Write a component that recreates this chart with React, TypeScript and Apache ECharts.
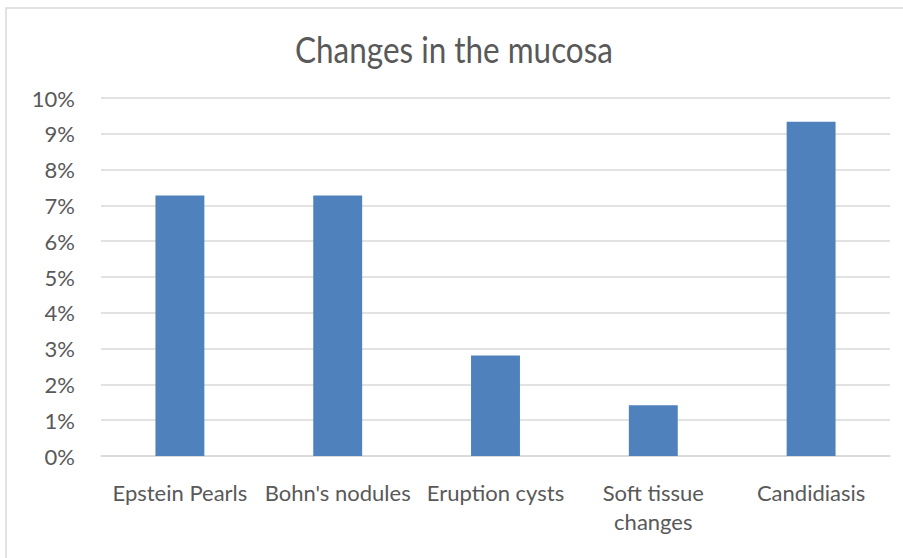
import React, { useEffect, useRef } from "react";
import * as echarts from "echarts";

const categories = ["Epstein Pearls", "Bohn's nodules", "Eruption cysts", "Soft tissue\nchanges", "Candidiasis"];
const values = [7.28, 7.28, 2.81, 1.42, 9.34];
const yTicks = [0, 1, 2, 3, 4, 5, 6, 7, 8, 9, 10];
const titleText = "Changes in the mucosa";

export default function App() {
  const ref = useRef<HTMLDivElement>(null);
  useEffect(() => {
    document.body.style.margin = "0";
    const chart = echarts.init(ref.current!, null, { renderer: "svg" });
    const font = "Lato, 'Open Sans', sans-serif";
    chart.setOption({
      animation: false,
      backgroundColor: "#ffffff",
      graphic: [
        {
          type: "rect",
          shape: { x: 6, y: 8, width: 930, height: 600 },
          style: { fill: "none", stroke: "#d9d9d9", lineWidth: 1.5 },
          silent: true,
        },
        {
          type: "text",
          x: 454,
          y: 48,
          scaleX: 0.85,
          style: {
            text: titleText,
            fontFamily: font,
            fontSize: 37,
            fontWeight: "normal",
            fill: "#595959",
            align: "center",
            verticalAlign: "middle",
            textAlign: "center",
            textVerticalAlign: "middle",
          },
        },
      ],
      grid: { left: 101, right: 13, top: 98, bottom: 102, containLabel: false },
      xAxis: {
        type: "category",
        data: categories,
        axisTick: { show: false },
        axisLine: { show: true, lineStyle: { color: "#d9d9d9", width: 1.5 } },
        axisLabel: {
          color: "#595959",
          fontFamily: font,
          fontSize: 22,
          margin: 22,
          lineHeight: 29,
          interval: 0,
        },
      },
      yAxis: {
        type: "value",
        min: 0,
        max: 10,
        interval: 1,
        axisLine: { show: false },
        axisTick: { show: false },
        splitLine: { lineStyle: { color: "#d9d9d9", width: 1.5 } },
        axisLabel: {
          color: "#595959",
          fontFamily: font,
          fontSize: 22,
          margin: 26,
          formatter: (v: number) => (yTicks.includes(v) ? v + "%" : ""),
        },
      },
      series: [
        {
          type: "bar",
          data: values,
          barWidth: "31%",
          itemStyle: { color: "#4f81bd" },
        },
      ],
    });
    return () => chart.dispose();
  }, []);
  return <div ref={ref} style={{ position: "absolute", left: 0, top: 0, width: 903, height: 558 }} />;
}
